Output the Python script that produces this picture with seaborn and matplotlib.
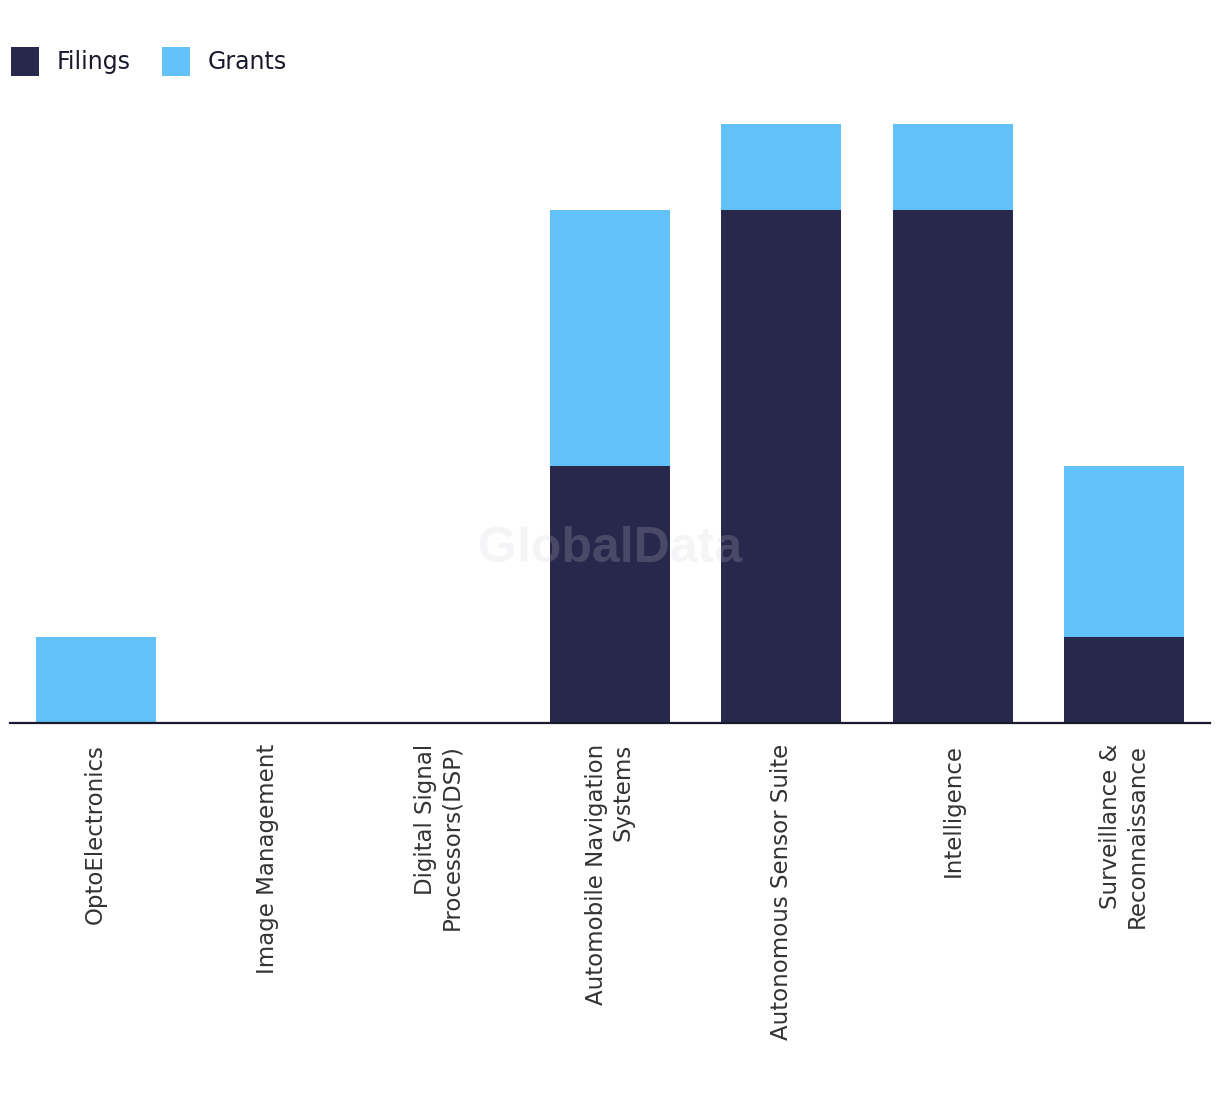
import matplotlib
matplotlib.use("Agg")
import matplotlib.pyplot as plt
import seaborn as sns
import pandas as pd
from matplotlib.patches import Patch

categories = [
    "OptoElectronics",
    "Image Management",
    "Digital Signal\nProcessors(DSP)",
    "Automobile Navigation\nSystems",
    "Autonomous Sensor Suite",
    "Intelligence",
    "Surveillance &\nReconnaissance",
]
filings = [0, 0, 0, 3, 6, 6, 1]
grants = [1, 0, 0, 3, 1, 1, 2]

NAVY = "#28284c"
BLUE = "#62c1f9"

sns.set_theme(style="white")
plt.rcParams["font.family"] = ["DejaVu Sans"]

df = pd.DataFrame({
    "category": categories,
    "Filings": filings,
    "Grants": grants,
})
df["Total"] = df["Filings"] + df["Grants"]

fig = plt.figure(figsize=(12.2, 10.94), dpi=100)
ax = fig.add_axes([10 / 1220, 371 / 1094, 1200 / 1220, 599 / 1094])

sns.barplot(data=df, x="category", y="Total", color=BLUE, width=0.7,
            saturation=1, ax=ax, order=categories, linewidth=0)
sns.barplot(data=df, x="category", y="Filings", color=NAVY, width=0.7,
            saturation=1, ax=ax, order=categories, linewidth=0)

ax.set_xlim(-0.5, 6.5)
ax.set_ylim(0, 7)
ax.set_xlabel("")
ax.set_ylabel("")
ax.set_yticks([])
for s in ["top", "right", "left"]:
    ax.spines[s].set_visible(False)
ax.spines["bottom"].set_color("#1a1a2e")
ax.spines["bottom"].set_linewidth(1.6)
ax.spines["bottom"].set_zorder(5)
ax.tick_params(axis="x", length=0, pad=15)
ax.set_xticks(range(len(categories)))
ax.set_xticklabels(categories, rotation=90, ha="center", va="top",
                   multialignment="right", fontsize=16.5, color="#333333")

ax.text(0.5, 0.29, "GlobalData", transform=ax.transAxes, ha="center",
        va="center", fontsize=36, fontweight="bold", color="#d0d0d8",
        alpha=0.2, family=["Liberation Sans", "DejaVu Sans"], zorder=10)

handles = [Patch(facecolor=NAVY, edgecolor="none", label="Filings"),
           Patch(facecolor=BLUE, edgecolor="none", label="Grants")]
fig.legend(handles=handles, loc="upper left",
           bbox_to_anchor=(4 / 1220, 1 - 40 / 1094), ncol=2, frameon=False,
           fontsize=17, handlelength=1.19, handleheight=1.5,
           handletextpad=0.72, columnspacing=1.35, labelcolor="#1a1a2e",
           borderpad=0.3, borderaxespad=0)

fig.savefig("out.png", dpi=100)
